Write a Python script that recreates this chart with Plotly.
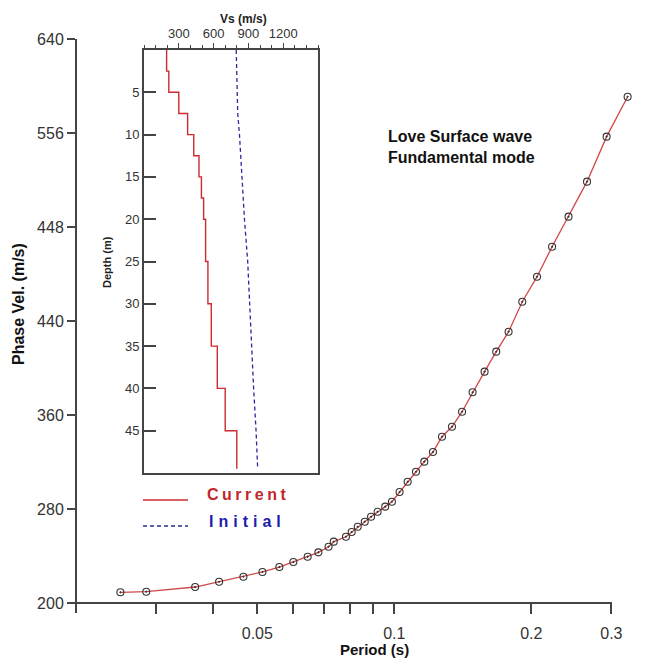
import plotly.graph_objects as go

# ---------------- data ----------------
period = [0.0250, 0.0285, 0.0365, 0.0412, 0.0466, 0.0513, 0.0559, 0.0600, 0.0645,
          0.0681, 0.0717, 0.0736, 0.0783, 0.0806, 0.0831, 0.0861, 0.0889, 0.0919,
          0.0955, 0.0988, 0.1027, 0.1070, 0.1116, 0.1164, 0.1216, 0.1273, 0.1339,
          0.1409, 0.1486, 0.1579, 0.1675, 0.1783, 0.1911, 0.2059, 0.2222, 0.2415,
          0.2652, 0.2928, 0.3257]
phase_vel = [209.1, 209.6, 213.6, 218.1, 222.4, 226.4, 230.6, 234.9, 239.4,
             243.1, 247.9, 252.2, 256.4, 260.4, 264.9, 269.2, 273.4, 277.7,
             282.0, 286.2, 294.5, 303.2, 311.7, 320.3, 328.5, 341.5, 350.0,
             362.8, 379.3, 396.9, 413.9, 430.9, 456.4, 477.7, 503.2, 528.8,
             558.6, 596.9, 630.9]

y_tickvals = [200, 280, 360, 440, 520, 600, 680]
y_ticktext = ["200", "280", "360", "440", "448", "556", "640"]
x_tickvals = [0.03, 0.04, 0.05, 0.06, 0.07, 0.08, 0.09, 0.1, 0.2, 0.3]
x_ticktext = ["", "", "0.05", "", "", "", "", "0.1", "0.2", "0.3"]

current_depth = [0, 2.5, 5, 7.5, 10, 12.5, 15, 17.5, 20, 25, 30, 35, 40, 45, 49.5]
current_vs = [195, 214, 300, 376, 429, 474, 495, 514, 531, 551, 580, 632, 700, 800, 800]
initial_depth = [0, 5, 7.5, 10, 15, 20, 25, 30, 35, 40, 45, 49.5]
initial_vs = [795, 800, 808, 823, 843, 866, 894, 909, 928, 945, 966, 980]

vs_tickvals = [300, 600, 900, 1200]
depth_tickvals = [5, 10, 15, 20, 25, 30, 35, 40, 45]

FONT = "Liberation Sans, Arial, sans-serif"
AX = "#444444"

fig = go.Figure()

fig.add_trace(go.Scatter(
    x=period, y=phase_vel, mode="lines+markers",
    line=dict(color="#d04848", width=1.3),
    marker=dict(symbol="circle-open-dot", size=7, color="#333333", line=dict(width=1.1)),
    xaxis="x", yaxis="y", showlegend=False))

fig.add_trace(go.Scatter(
    x=current_vs, y=current_depth, mode="lines", line_shape="vh",
    line=dict(color="#cc2a2e", width=1.4),
    xaxis="x2", yaxis="y2", showlegend=False))

fig.add_trace(go.Scatter(
    x=initial_vs, y=initial_depth, mode="lines",
    line=dict(color="#2a2a9c", width=1.3, dash="4px,3px"),
    xaxis="x2", yaxis="y2", showlegend=False))

W, H = 652, 661
L, R, T, B = 76, 12, 39, 58
pw, ph = W - L - R, H - T - B

def px(x):
    return (x - L) / pw

def py(y):
    return (H - B - y) / ph

fig.update_layout(
    width=W, height=H,
    margin=dict(l=L, r=R, t=T, b=B),
    paper_bgcolor="white", plot_bgcolor="white",
    font=dict(family=FONT, color="#333333"),
    xaxis=dict(type="log", range=[-1.6996, -0.460], domain=[0, 1],
               tickmode="array", tickvals=x_tickvals, ticktext=x_ticktext,
               ticks="outside", ticklen=10, tickwidth=1.5, tickcolor=AX,
               ticklabelstandoff=6,
               tickfont=dict(size=16, color="#333333", family=FONT),
               showgrid=False, zeroline=False, showline=False),
    yaxis=dict(range=[200, 680], domain=[0, 1],
               tickmode="array", tickvals=y_tickvals, ticktext=y_ticktext,
               ticks="outside", ticklen=8, tickwidth=1.5, tickcolor=AX,
               tickfont=dict(size=16, color="#333333", family=FONT),
               showgrid=False, zeroline=False, showline=False),
    xaxis2=dict(range=[0, 1500], domain=[px(144), px(318)], anchor="y2", side="top",
                tickmode="array", tickvals=vs_tickvals,
                ticks="outside", ticklen=5, tickwidth=1.2, tickcolor=AX,
                minor=dict(tickmode="linear", tick0=0, dtick=100, ticks="outside",
                           ticklen=3, tickcolor=AX, tickwidth=1),
                tickfont=dict(size=13, color="#333333", family=FONT),
                showline=True, mirror=True, linecolor=AX, linewidth=2,
                showgrid=False, zeroline=False),
    yaxis2=dict(range=[50, 0], domain=[py(473), py(50)], anchor="x2",
                tickmode="array", tickvals=depth_tickvals,
                ticks="inside", ticklen=12, tickwidth=1.5, tickcolor=AX,
                tickfont=dict(size=13, color="#333333", family=FONT),
                showline=True, mirror=True, linecolor=AX, linewidth=2,
                showgrid=False, zeroline=False),
)

shapes = [
    # main axes lines
    dict(type="line", xref="paper", yref="paper", x0=px(72), x1=px(612), y0=0, y1=0,
         line=dict(color=AX, width=2)),
    dict(type="line", xref="paper", yref="paper", x0=0, x1=0, y0=py(613), y1=1,
         line=dict(color=AX, width=2)),
    # legend samples
    dict(type="line", xref="paper", yref="paper", x0=px(143), x1=px(188), y0=py(500), y1=py(500),
         line=dict(color="#cc2a2e", width=1.4)),
    dict(type="line", xref="paper", yref="paper", x0=px(143), x1=px(188), y0=py(526), y1=py(526),
         line=dict(color="#2a2a9c", width=1.4, dash="4px,3px")),
]
fig.update_layout(shapes=shapes)

ann = [
    dict(text="<span style='letter-spacing:3.5px'><b>Current</b></span>", x=px(205), y=py(494),
         xanchor="left", yanchor="middle",
         font=dict(size=16, color="#c0272d", family=FONT)),
    dict(text="<span style='letter-spacing:5px'><b>Initial</b></span>", x=px(207), y=py(521),
         xanchor="left", yanchor="middle",
         font=dict(size=16, color="#1c1cae", family=FONT)),
    dict(text="<b>Vs (m/s)</b>", x=px(243), y=py(19), xanchor="center", yanchor="middle",
         font=dict(size=12, color="#222222", family=FONT)),
    dict(text="<b>Depth (m)</b>", x=px(107), y=py(262), xanchor="center", yanchor="middle",
         textangle=-90, font=dict(size=11, color="#222222", family=FONT)),
    dict(text="<b>Love Surface wave<br>Fundamental mode</b>", x=px(386), y=py(126),
         xanchor="left", yanchor="top", align="left",
         font=dict(size=16, color="#111111", family=FONT)),
    dict(text="<b>Phase Vel. (m/s)</b>", x=px(18), y=py(304), xanchor="center", yanchor="middle",
         textangle=-90, font=dict(size=16, color="#111111", family=FONT)),
    dict(text="<b>Period (s)</b>", x=px(374), y=py(649), xanchor="center", yanchor="middle",
         font=dict(size=15, color="#111111", family=FONT)),
]
for a in ann:
    a.update(xref="paper", yref="paper", showarrow=False)
fig.update_layout(annotations=ann)

fig.write_html("out.html")
